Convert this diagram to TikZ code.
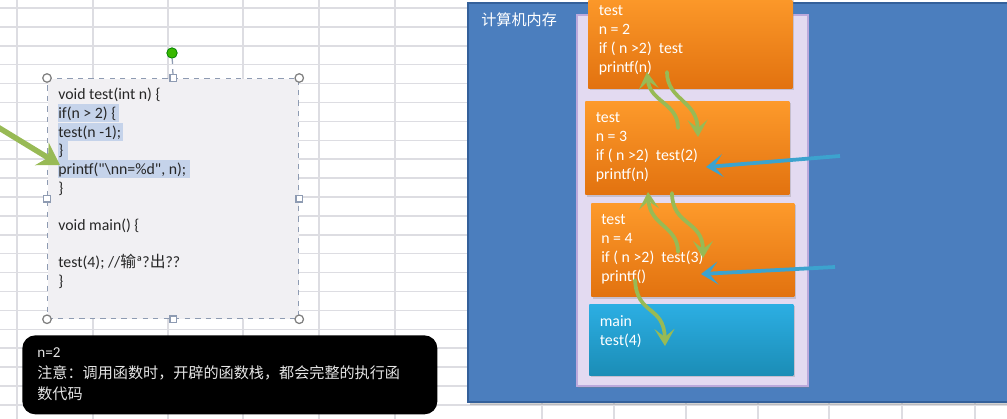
\documentclass[tikz,border=0pt]{standalone}
\usepackage{fontspec}
\setmainfont{Carlito}
\newfontfamily\codefont{Carlito}
\newfontfamily\cjk{Noto Sans CJK SC}
\usetikzlibrary{arrows.meta, shadows, positioning}

\definecolor{gridline}{HTML}{DDDDE2}
\definecolor{memblue}{HTML}{4B7EBE}
\definecolor{memedge}{HTML}{34609A}
\definecolor{stacklav}{HTML}{E3DAF1}
\definecolor{stackedge}{HTML}{BBA9DC}
\definecolor{orangeT}{HTML}{FD9A2B}
\definecolor{orangeB}{HTML}{E2720F}
\definecolor{cyanT}{HTML}{2CAEE3}
\definecolor{cyanB}{HTML}{1B8DB6}
\definecolor{arrowgreen}{HTML}{98BA55}
\definecolor{arrowblue}{HTML}{3CA3CE}
\definecolor{selblue}{HTML}{C5D3EA}
\definecolor{codebg}{HTML}{F1F0F3}
\definecolor{handleedge}{HTML}{8E9BB2}

\begin{document}
\begin{tikzpicture}[x=0.2mm, y=-0.2mm, every node/.style={inner sep=0pt},
  frame/.style={anchor=north west, minimum width=40.8mm, minimum height=18.7mm,
    drop shadow={shadow xshift=0.4mm, shadow yshift=-0.4mm, opacity=0.3}},
  orangeframe/.style={frame, top color=orangeT, bottom color=orangeB},
  frametext/.style={anchor=north west, align=left, text=white,
    font=\fontsize{9}{10.8}\selectfont},
  callarrow/.style={line width=0.75mm, arrowgreen, line cap=round,
    -{Stealth[length=3.4mm, width=4mm, inset=1.6mm]}},
  backarrow/.style={line width=0.75mm, arrowblue,
    -{Stealth[length=3.4mm, width=4.6mm, inset=1.8mm]}},
  cornerhandle/.style={circle, draw=gray, fill=white, minimum size=1.7mm, line width=0.25mm},
  midhandle/.style={rectangle, draw=handleedge, fill=white, minimum size=1.3mm, line width=0.25mm}]
  \useasboundingbox (0,0) rectangle (1007,419);
  \clip (0,0) rectangle (1007,419);

  % Sheet grid
  \fill[white] (0,0) rectangle (1007,419);
  \foreach \k in {0,...,22}
    \draw[gridline, line width=0.3mm] (0,8+18.9*\k) -- (1007,8+18.9*\k);
  \foreach \c in {17,93,168,243,319,395}
    \draw[gridline, line width=0.3mm] (\c,0) -- (\c,419);
  \foreach \c in {542,614,686,758,829,902,975}
    \draw[gridline, line width=0.3mm] (\c,400) -- (\c,419);

  % Code box (selected shape)
  \node[anchor=north west, fill=codebg, draw=handleedge, dashed, line width=0.25mm,
    minimum width=50.2mm, minimum height=48mm] (code) at (47,78) {};
  \fill[selblue] (58,104) rectangle (119,122);
  \fill[selblue] (58,123) rectangle (123,141);
  \fill[selblue] (58,141) rectangle (68,160);
  \fill[selblue] (58,160) rectangle (190,178);
  \node[anchor=north west, align=left, font=\codefont\fontsize{9}{10.6}\selectfont,
    text=black!85] (src) at (58,88)
    {void test(int n) \{\\
     if(n > 2) \{\\
     test(n -1);\\
     \}\\
     printf("\textbackslash nn=\%d", n);\\
     \}\\
     ~\\
     void main() \{\\
     ~\\
     test(4); //{\cjk 输}ª?{\cjk 出}??\\
     \}};
  \foreach \a/\n in {north west/1, north east/2, south west/3, south east/4}
    \node[cornerhandle] (hc\n) at (code.\a) {};
  \foreach \a/\n in {north/1, south/2, west/3, east/4}
    \node[midhandle] (hm\n) at (code.\a) {};
  \node[circle, fill=green!60!black!70!lime, draw=green!50!black, line width=0.15mm,
    minimum size=2.1mm] (rot) at (172,53) {};
  \draw[handleedge, dashed, line width=0.25mm] (rot) -- (hm1);

  % Pointer into the code
  \coordinate (ptrtail) at (-4,126);
  \coordinate (ptrtip) at (60,165);
  \draw[line width=1.1mm, arrowgreen,
    -{Stealth[length=4.2mm, width=5.2mm, inset=1.4mm]}] (ptrtail) -- (ptrtip);

  % Note
  \node[anchor=north west, fill=black, rounded corners=2.6mm,
    minimum width=83mm, minimum height=15.8mm] (note) at (22,335) {};
  \node[anchor=north west, align=left, text=white!90!black,
    font=\fontsize{8.6}{12}\selectfont] (notetext) at (37,347)
    {n=2\\
     {\cjk 注意：调用函数时，开辟的函数栈，都会完整的执行函}\\
     {\cjk 数代码}};

  % Computer memory
  \node[anchor=north west, fill=memblue, draw=memedge, line width=0.4mm,
    minimum width=110mm, minimum height=79.8mm,
    drop shadow={shadow xshift=0.3mm, shadow yshift=-0.5mm, opacity=0.35}] (memory) at (467,2) {};
  \node[anchor=north west, text=white, font=\cjk\fontsize{8.6}{10}\selectfont] (memlabel)
    at (481,12) {计算机内存};

  % Stack
  \node[anchor=north west, fill=stacklav, draw=stackedge, line width=0.3mm,
    minimum width=46.2mm, minimum height=74.2mm,
    drop shadow={shadow xshift=0.3mm, shadow yshift=-0.5mm, opacity=0.35}] (stack) at (576,14) {};

  % Frames
  \node[orangeframe, minimum height=18.8mm] (f2) at (588,-6) {};
  \node[orangeframe] (f3) at (585,101) {};
  \node[orangeframe, minimum width=40.6mm] (f4) at (591,203) {};
  \node[frame, top color=cyanT, bottom color=cyanB, minimum height=14.2mm] (fm) at (589,304) {};

  \node[frametext] (t2) at ([xshift=2.1mm, yshift=-2.3mm]f2.north west)
    {test\\ n = 2\\ if ( n >2)\ \ test\\ printf(n)};
  \node[frametext] (t3) at ([xshift=2.1mm, yshift=-2.3mm]f3.north west)
    {test\\ n = 3\\ if ( n >2)\ \ test(2)\\ printf(n)};
  \node[frametext] (t4) at ([xshift=2.0mm, yshift=-2.3mm]f4.north west)
    {test\\ n = 4\\ if ( n >2)\ \ test(3)\\ printf()};
  \node[frametext] (tm) at ([xshift=2.1mm, yshift=-2.3mm]fm.north west)
    {main\\ test(4)};

  % Calls and returns
  \coordinate (r3a) at (678,128);  \coordinate (r3b) at (647,72);
  \coordinate (c2a) at (667,72);   \coordinate (c2b) at (698,137);
  \coordinate (r4a) at (678,252);  \coordinate (r4b) at (648,192);
  \coordinate (c3a) at (672,193);  \coordinate (c3b) at (703,258);
  \coordinate (cma) at (635,280);  \coordinate (cmb) at (665,346);
  \draw[callarrow] (r3a) .. controls (678,103) and (650,102) .. (r3b);
  \draw[callarrow] (c2a) .. controls (667,100) and (697,100) .. (c2b);
  \draw[callarrow] (r4a) .. controls (678,226) and (650,226) .. (r4b);
  \draw[callarrow] (c3a) .. controls (672,226) and (703,220) .. (c3b);
  \draw[callarrow] (cma) .. controls (637,316) and (664,305) .. (cmb);

  \coordinate (b3a) at (840,156);  \coordinate (b3b) at (706,167);
  \coordinate (b4a) at (835,267);  \coordinate (b4b) at (701,274);
  \draw[backarrow] (b3a) -- (b3b);
  \draw[backarrow] (b4a) -- (b4b);
\end{tikzpicture}
\end{document}
